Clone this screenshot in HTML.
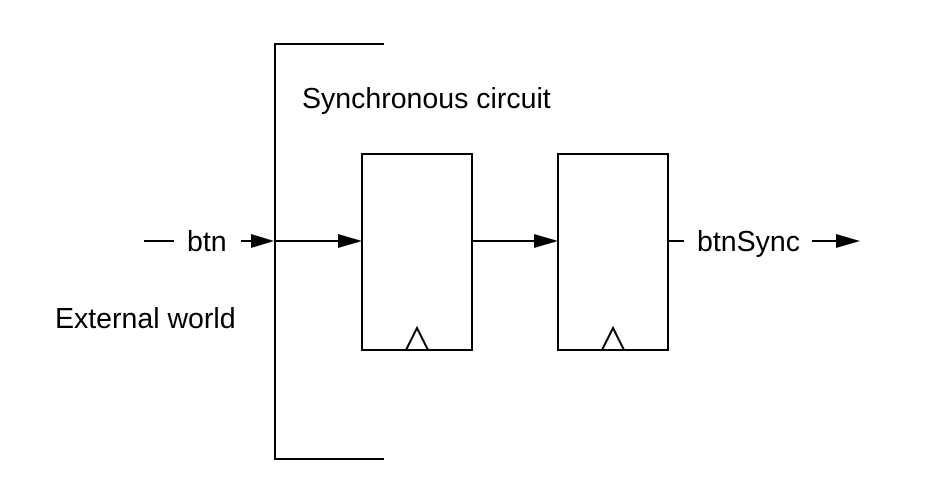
<!DOCTYPE html>
<html><head><style>
html,body{margin:0;padding:0;background:#fff;}
svg{display:block;}
text{font-family:"Liberation Sans",Arial,sans-serif;font-size:28.5px;fill:#000;}
</style></head><body>
<svg width="930" height="488" viewBox="0 0 930 488" xmlns="http://www.w3.org/2000/svg">
<g stroke="#000" stroke-width="2" fill="none">
<polyline points="384,44 275,44 275,459 384,459"/>
<rect x="362" y="154" width="110" height="196"/>
<rect x="558" y="154" width="110" height="196"/>
<polyline points="406,350 417,328 428,350"/>
<polyline points="602,350 613,328 624,350"/>
<line x1="144" y1="241" x2="174" y2="241"/>
<line x1="241" y1="241" x2="255" y2="241"/>
<line x1="275" y1="241" x2="340" y2="241"/>
<line x1="472" y1="241" x2="536" y2="241"/>
<line x1="668" y1="241" x2="684" y2="241"/>
<line x1="812" y1="241" x2="840" y2="241"/>
</g>
<g fill="#000">
<polygon points="251,234 274,241 251,248"/>
<polygon points="338,234 362,241 338,248"/>
<polygon points="534,234 558,241 534,248"/>
<polygon points="836,234 860,241 836,248"/>
</g>
<text x="187" y="251">btn</text>
<text x="697" y="251">btnSync</text>
<text x="302" y="108">Synchronous circuit</text>
<text x="55" y="328">External world</text>
</svg>
</body></html>
